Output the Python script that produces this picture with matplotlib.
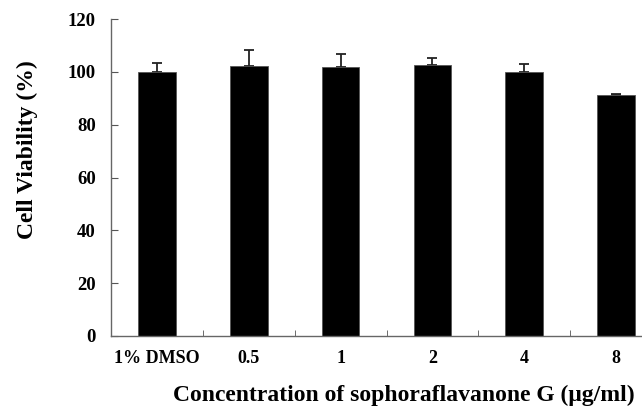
import matplotlib.pyplot as plt
import numpy as np

# data
categories = ['1% DMSO', '0.5', '1', '2', '4', '8']
viability = [100.0, 102.2, 101.9, 102.7, 100.0, 91.2]
errors = [3.4, 6.2, 4.9, 2.7, 3.0, 0.3]
yticks = [0, 20, 40, 60, 80, 100, 120]

plt.rcParams['font.family'] = ['Liberation Serif', 'DejaVu Serif']
plt.rcParams['font.weight'] = 'bold'

fig = plt.figure(figsize=(6.42, 4.07), dpi=100)
ax = fig.add_axes([111/642, 71/407, 551/642, 317/407])

x = np.arange(len(categories))
# upper error bars only; bars drawn on top so the lower cap is hidden
ax.errorbar(x, viability, yerr=[np.zeros(len(errors)), errors], fmt='none',
            ecolor='#222222', elinewidth=1.3, capthick=1.3, capsize=3.5, zorder=1)
ax.bar(x, viability, width=0.41, color='black', edgecolor='#555555',
       linewidth=0.6, zorder=2)

ax.set_xlim(-0.5, len(categories) - 0.5)
ax.set_ylim(0, 120)
ax.set_yticks(yticks)
ax.set_yticklabels([str(v) for v in yticks], fontsize=13.5, fontweight='bold')

# category labels at bar centres, tick marks at boundaries
ax.set_xticks(x)
ax.set_xticklabels(categories, fontsize=13, fontweight='bold')
ax.tick_params(axis='x', length=0, pad=10)
ax.set_xticks(x[:-1] + 0.5, minor=True)
ax.tick_params(axis='x', which='minor', direction='in', length=4, color='#555555')
ax.tick_params(axis='y', direction='in', length=5, color='#555555', pad=11)

for s in ['top', 'right']:
    ax.spines[s].set_visible(False)
for s in ['left', 'bottom']:
    ax.spines[s].set_color('#666666')
    ax.spines[s].set_linewidth(1.0)

ax.set_ylabel('Cell Viability (%)', fontsize=17, fontweight='bold')
ax.yaxis.label.set_va('center')
ax.yaxis.set_label_coords(-0.151, 0.587)
ax.set_xlabel('Concentration of sophoraflavanone G (\u03bcg/ml)', fontsize=17, fontweight='bold')
ax.xaxis.label.set_va('center')
ax.xaxis.set_label_coords(0.532, -0.186)

fig.savefig('out.png', dpi=100)
